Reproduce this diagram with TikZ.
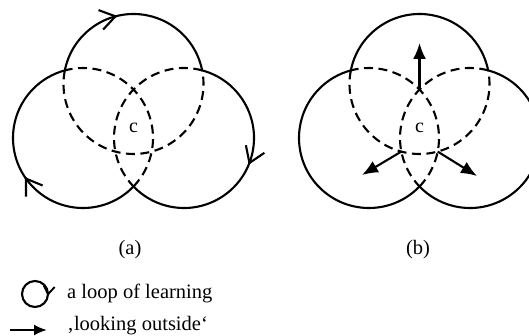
\documentclass[tikz,border=0pt]{standalone}
\usepackage{fontspec}
\setmainfont{Liberation Serif}
\usetikzlibrary{arrows.meta}
\begin{document}
\begin{tikzpicture}[x=1pt,y=1pt,
  ring/.style={line width=2.1pt},
  hidden/.style={line width=2.1pt, dash pattern=on 9pt off 5.5pt},
  outward/.style={line width=2.1pt, -{Latex[length=16pt,width=13pt]}},
  flow/.style={line width=2.1pt, -{Straight Barb[length=15pt,width=20pt]}},
  smallflow/.style={line width=1.9pt, -{Straight Barb[length=8pt,width=11pt]}},
  lbl/.style={font=\fontsize{20.5}{24}\selectfont, inner sep=0pt},
  ctr/.style={font=\fontsize{20}{22}\selectfont, inner sep=0pt},
]
\useasboundingbox (0,0) rectangle (529,335);
\clip (0,0) rectangle (529,335);
\def\rad{70}

% three overlapping circles: outer rim solid, inner parts dashed
\foreach \s/\dx in {a/0, b/286} {
  \coordinate (T\s) at (133.5+\dx,251);
  \coordinate (L\s) at (83+\dx,197);
  \coordinate (R\s) at (184+\dx,197);
  \draw[ring]   (T\s) ++(168.80:\rad) arc[start angle=168.80, end angle=11.20, radius=\rad];
  \draw[hidden] (T\s) ++(168.80:\rad) arc[start angle=168.80, end angle=371.20, radius=\rad];
  \draw[ring]   (L\s) ++(316.17:\rad) arc[start angle=316.17, end angle=105.04, radius=\rad];
  \draw[hidden] (L\s) ++(-43.83:\rad) arc[start angle=-43.83, end angle=105.04, radius=\rad];
  \draw[ring]   (R\s) ++(74.96:\rad) arc[start angle=74.96, end angle=-136.17, radius=\rad];
  \draw[hidden] (R\s) ++(74.96:\rad) arc[start angle=74.96, end angle=223.83, radius=\rad];
  \node[ctr] (c\s) at (133.5+\dx,207) {c};
}

% (a): clockwise flow marks on each loop (tip on the rim, pointing along it)
\path (Ta) ++(103.4:\rad) coordinate (ft1) ++(193.4:1) coordinate (ft0);
\path (Ra) ++(-22.4:\rad) coordinate (fr1) ++(67.6:1) coordinate (fr0);
\path (La) ++(213.9:\rad) coordinate (fl1) ++(303.9:1) coordinate (fl0);
\draw[flow] (ft0) -- (ft1);
\draw[flow] (fr0) -- (fr1);
\draw[flow] (fl0) -- (fl1);

% (b): arrows pointing out of the core
\coordinate (up0) at (419.5,245.5);
\coordinate (up1) at (419.5,292);
\coordinate (lf0) at (401.3,183.4);
\coordinate (lf1) at (362,160);
\coordinate (rt0) at (437.7,183.4);
\coordinate (rt1) at (477,159);
\draw[outward] (up0) -- (up1);
\draw[outward] (lf0) -- (lf1);
\draw[outward] (rt0) -- (rt1);

% captions
\node[lbl, anchor=base] (capa) at (130,80.5) {(a)};
\node[lbl, anchor=base] (capb) at (418,80.5) {(b)};

% key
\coordinate (kc) at (35,41);
\draw[ring] (kc) circle[radius=13];
\path (kc) ++(-8:13) coordinate (kl1) ++(82:1) coordinate (kl0);
\draw[smallflow] (kl0) -- (kl1);
\node[lbl, anchor=base west] (keyloop) at (67,37) {a loop of learning};
\coordinate (keyA) at (10,5);
\coordinate (keyB) at (47,5);
\draw[line width=2.1pt, -{Latex[length=13pt,width=11pt]}] (keyA) -- (keyB);
\node[lbl, anchor=base west] (keyout) at (67,5) {‚looking outside‘};
\end{tikzpicture}
\end{document}
